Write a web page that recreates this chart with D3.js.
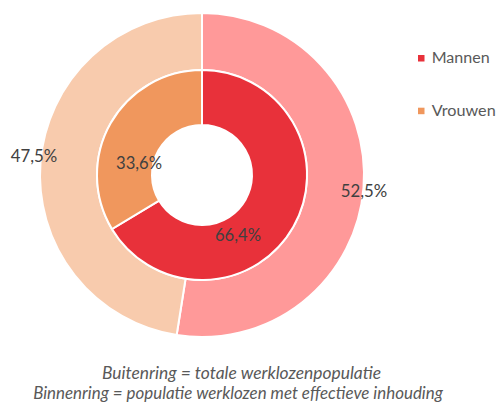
<!DOCTYPE html>
<html><head><meta charset="utf-8">
<script src="https://cdn.jsdelivr.net/npm/d3@7"></script>
<style>body{margin:0;background:#fff}svg{display:block}</style>
</head><body>
<svg id="c" width="497" height="403"></svg>
<script>
const categories = ["Mannen", "Vrouwen"];
const outerValues = [52.5, 47.5];   // Buitenring
const innerValues = [66.4, 33.6];   // Binnenring
const outerColors = ["#FF9999", "#F8CBAD"];
const innerColors = ["#E8313A", "#F0975D"];
const captionLines = ["Buitenring = totale werklozenpopulatie",
                      "Binnenring = populatie werklozen met effectieve inhouding"];

const svg = d3.select("#c");
const cx = 202, cy = 175;
const rHole = 50, rMid = 105, rOuter = 162;
const font = "Lato, 'Open Sans', sans-serif";
const fmt = v => d3.format(".1f")(v).replace(".", ",") + "%";

// scale a text's font-size so its rendered width equals a target width
function fitWidth(sel, target) {
  sel.each(function () {
    const w = this.getComputedTextLength();
    const fs = parseFloat(this.getAttribute("font-size"));
    if (w > 0) this.setAttribute("font-size", (fs * target / w).toFixed(2));
  });
}

const pie = d3.pie().sort(null).value(d => d).startAngle(0).endAngle(2 * Math.PI);
const g = svg.append("g").attr("transform", `translate(${cx},${cy})`);

const outerArc = d3.arc().innerRadius(rMid).outerRadius(rOuter);
const innerArc = d3.arc().innerRadius(rHole).outerRadius(rMid);
const outerPie = pie(outerValues), innerPie = pie(innerValues);

g.selectAll("path.o").data(outerPie).join("path").attr("class", "o")
  .attr("d", outerArc).attr("fill", (d, i) => outerColors[i])
  .attr("stroke", "#fff").attr("stroke-width", 2);
g.selectAll("path.i").data(innerPie).join("path").attr("class", "i")
  .attr("d", innerArc).attr("fill", (d, i) => innerColors[i])
  .attr("stroke", "#fff").attr("stroke-width", 2);

// labels: arc centroid + manual nudge (labels were hand-placed in the source)
const outerLabelArc = d3.arc().innerRadius(166).outerRadius(166);
const outerNudge = [[-3.5, 9], [-2.5, 0]];
const innerNudge = [[-31.5, 28], [4.5, 32]];
const lblO = g.selectAll("text.o").data(outerPie).join("text").attr("class", "o")
  .attr("transform", (d, i) => { const c = outerLabelArc.centroid(d); return `translate(${c[0] + outerNudge[i][0]},${c[1] + outerNudge[i][1]})`; })
  .attr("text-anchor", "middle").attr("font-family", font).attr("font-size", 16)
  .attr("fill", "#404040").text(d => fmt(d.data));
const lblI = g.selectAll("text.i").data(innerPie).join("text").attr("class", "i")
  .attr("transform", (d, i) => { const c = innerArc.centroid(d); return `translate(${c[0] + innerNudge[i][0]},${c[1] + innerNudge[i][1]})`; })
  .attr("text-anchor", "middle").attr("font-family", font).attr("font-size", 16)
  .attr("fill", "#404040").text(d => fmt(d.data));
fitWidth(lblO, 46.5);
fitWidth(lblI, 46);

// legend
const leg = svg.append("g").attr("transform", "translate(418,55)");
const li = leg.selectAll("g").data(categories).join("g")
  .attr("transform", (d, i) => `translate(0,${i * 52.7})`);
li.append("rect").attr("x", 0).attr("y", 0).attr("width", 6.5).attr("height", 6.5)
  .attr("fill", (d, i) => innerColors[i]);
const legT = li.append("text").attr("x", 13.7).attr("y", 8.3).attr("font-family", font).attr("font-size", 15)
  .attr("fill", "#595959").text(d => d);
legT.each(function (d, i) {
  const w = this.getComputedTextLength();
  const target = i === 0 ? 58 : 64;
  this.setAttribute("font-size", (15 * target / w).toFixed(2));
});

// caption
const capX = [241.5, 238], capW = [279, 410];
const cap = svg.selectAll("text.cap").data(captionLines).join("text").attr("class", "cap")
  .attr("x", (d, i) => capX[i]).attr("y", (d, i) => 378.7 + i * 20.3).attr("text-anchor", "middle")
  .attr("font-family", font).attr("font-style", "italic").attr("font-size", 15)
  .attr("fill", "#595959").text(d => d);
cap.each(function (d, i) { fitWidth(d3.select(this), capW[i]); });
</script>
</body></html>
